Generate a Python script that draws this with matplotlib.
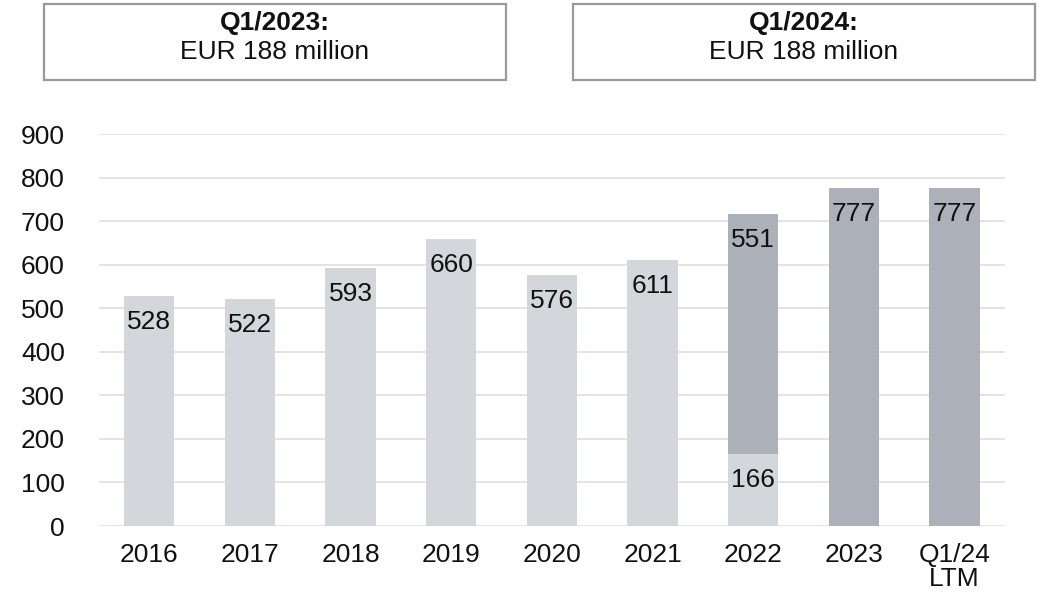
import matplotlib
matplotlib.use("Agg")
import matplotlib.pyplot as plt
from matplotlib.patches import Rectangle

plt.rcParams['font.family'] = ['Liberation Sans', 'DejaVu Sans']

# Data
categories = ["2016", "2017", "2018", "2019", "2020", "2021", "2022", "2023", "Q1/24\nLTM"]
base_values = [528, 522, 593, 660, 576, 611, 166, 0, 0]       # light segments
new_values = [0, 0, 0, 0, 0, 0, 551, 777, 777]                # dark segments
yticks = [0, 100, 200, 300, 400, 500, 600, 700, 800, 900]
box_titles = ["Q1/2023:", "Q1/2024:"]
box_texts = ["EUR 188 million", "EUR 188 million"]

LIGHT = "#d3d6db"
DARK = "#acb0b8"
GRID = "#e4e4e4"
TEXT = "#111111"
FS = 19

W, H = 1038, 601
fig = plt.figure(figsize=(W / 100, H / 100), dpi=100)
ax = fig.add_axes([99 / W, 75 / H, (1005 - 99) / W, (526 - 134) / H])

x = list(range(len(categories)))
bw = 0.5
ax.bar(x, base_values, width=bw, color=LIGHT, zorder=2)
ax.bar(x, new_values, width=bw, bottom=base_values, color=DARK, zorder=2)

# value labels just inside the top of each segment
off = -26 * 72 / 100
for i in x:
    if base_values[i] > 0:
        ax.annotate(str(base_values[i]), (i, base_values[i]), xytext=(0, off),
                    textcoords="offset points", ha="center", va="center",
                    fontsize=FS, color=TEXT, zorder=3)
    if new_values[i] > 0:
        top = base_values[i] + new_values[i]
        ax.annotate(str(new_values[i]), (i, top), xytext=(0, off),
                    textcoords="offset points", ha="center", va="center",
                    fontsize=FS, color=TEXT, zorder=3)

ax.set_xlim(-0.5, len(categories) - 0.5)
ax.set_ylim(0, 900)
ax.set_yticks(yticks)
ax.set_yticklabels([str(v) for v in yticks], fontsize=FS, color=TEXT)
ax.set_xticks(x)
ax.set_xticklabels(categories, fontsize=FS, color=TEXT, linespacing=1.0)
ax.tick_params(axis="both", length=0)
ax.tick_params(axis="y", pad=34 * 72 / 100)
ax.tick_params(axis="x", pad=17 * 72 / 100)
ax.grid(axis="y", color=GRID, linewidth=1.4, zorder=0)
ax.set_axisbelow(True)
for s in ax.spines.values():
    s.set_visible(False)

# header boxes
boxes = [(44, 506), (573, 1035)]
for (x0, x1), title, txt in zip(boxes, box_titles, box_texts):
    rect = Rectangle((x0 / W, (H - 80) / H), (x1 - x0) / W, 76 / H,
                     transform=fig.transFigure, facecolor="white",
                     edgecolor="#9a9a9a", linewidth=1.6)
    fig.patches.append(rect)
    cx = (x0 + x1) / 2 / W
    fig.text(cx, (H - 23) / H, title, ha="center", va="center",
             fontsize=FS, fontweight="bold", color=TEXT)
    fig.text(cx, (H - 52) / H, txt, ha="center", va="center",
             fontsize=FS, color=TEXT)

fig.savefig("out.png", dpi=100)
